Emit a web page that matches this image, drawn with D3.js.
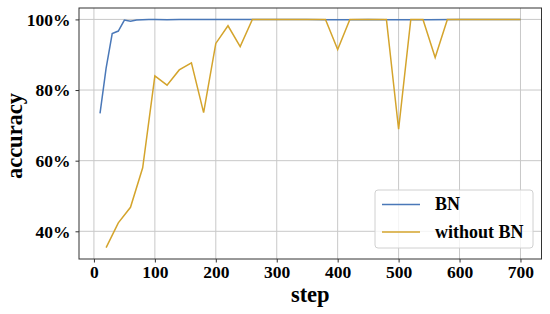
<!DOCTYPE html>
<html>
<head>
<meta charset="utf-8">
<script src="https://cdn.jsdelivr.net/npm/d3@7"></script>
<style>
  body { margin: 0; background: #fff; }
  text { font-family: "Liberation Serif", "Times New Roman", serif; font-weight: bold; fill: #000; }
</style>
</head>
<body>
<svg width="550" height="314"></svg>
<script>
var width = 550,
    height = 314;

// BN curve
var bnSteps = [10, 20, 30, 40, 50, 60, 70, 80, 90, 100, 120, 140, 160, 180, 200,
  250, 300, 350, 380, 400, 420, 450, 480, 500, 520, 550, 600, 650, 700];
var bnAcc = [73.4, 86.2, 96.0, 96.7, 99.8, 99.5, 99.8, 99.9, 100, 100, 99.9, 100, 100, 100, 100,
  100, 100, 100, 99.9, 99.9, 99.9, 100, 99.9, 99.9, 99.9, 99.9, 100, 100, 100];

// without BN, every 20 steps
var noSteps = [20, 40, 60, 80, 100, 120, 140, 160, 180, 200, 220, 240, 260,
  380, 400, 420, 480, 500, 520, 540, 560, 580, 700];
var noAcc = [35.4, 42.4, 46.8, 58.0, 84.0, 81.4, 85.7, 87.7, 73.6, 93.2, 98.2, 92.3, 100,
  100, 91.5, 100, 100, 68.9, 100, 100, 89.2, 100, 100];

var xTicks = [0, 100, 200, 300, 400, 500, 600, 700];
var yTicks = [40, 60, 80, 100];
var seriesNames = ["BN", "without BN"];
var seriesColors = ["#4a78b8", "#d4a42c"];

var margin = {left: 79, right: 8.5, top: 8, bottom: 55};

var x = d3.scaleLinear().domain([-24.5, 734.5])
    .range([margin.left, width - margin.right]);
var y = d3.scaleLinear().domain([32.16, 103.23])
    .range([height - margin.bottom, margin.top]);

var svg = d3.select("svg");

// grid
svg.append("g").selectAll("line").data(xTicks).enter().append("line")
    .attr("x1", function(d) { return x(d); }).attr("x2", function(d) { return x(d); })
    .attr("y1", y.range()[0]).attr("y2", y.range()[1])
    .style("stroke", "#c8c8c8").style("stroke-width", 1);
svg.append("g").selectAll("line").data(yTicks).enter().append("line")
    .attr("y1", function(d) { return y(d); }).attr("y2", function(d) { return y(d); })
    .attr("x1", x.range()[0]).attr("x2", x.range()[1])
    .style("stroke", "#c8c8c8").style("stroke-width", 1);

var line = d3.line()
    .x(function(d) { return x(d[0]); })
    .y(function(d) { return y(d[1]); });

svg.append("path")
    .datum(d3.zip(bnSteps, bnAcc))
    .attr("d", line)
    .style("fill", "none").style("stroke", seriesColors[0]).style("stroke-width", 1.5);
svg.append("path")
    .datum(d3.zip(noSteps, noAcc))
    .attr("d", line)
    .style("fill", "none").style("stroke", seriesColors[1]).style("stroke-width", 1.5);

// axes
var xAxis = svg.append("g")
    .attr("transform", "translate(0," + y.range()[0] + ")")
    .call(d3.axisBottom(x).tickValues(xTicks).tickSize(3.5).tickPadding(4));
var yAxis = svg.append("g")
    .attr("transform", "translate(" + x.range()[0] + ",0)")
    .call(d3.axisLeft(y).tickValues(yTicks).tickSize(3.5).tickPadding(5)
      .tickFormat(function(d) { return d + "%"; }));

[xAxis, yAxis].forEach(function(a) {
  a.select(".domain").remove();
  a.selectAll("line").style("stroke", "#333");
  a.selectAll("text")
    .style("font-family", "'Liberation Serif', serif")
    .style("font-weight", "bold")
    .style("font-size", "17.5px")
    .style("fill", "#000");
});
xAxis.selectAll("text").attr("dy", "0.66em");
yAxis.selectAll("text").attr("dy", "0.33em");

// frame
svg.append("rect")
    .attr("x", x.range()[0]).attr("y", y.range()[1])
    .attr("width", x.range()[1] - x.range()[0])
    .attr("height", y.range()[0] - y.range()[1])
    .style("fill", "none").style("stroke", "#333").style("stroke-width", 1);

// axis labels
svg.append("text")
    .attr("x", (x.range()[0] + x.range()[1]) / 2)
    .attr("y", 302)
    .attr("text-anchor", "middle")
    .style("font-size", "22.5px")
    .text("step");
svg.append("text")
    .attr("transform", "translate(22,136) rotate(-90)")
    .attr("text-anchor", "middle")
    .style("font-size", "22.5px")
    .text("accuracy");

// legend
var legend = svg.append("g").attr("transform", "translate(375,190)");
legend.append("rect")
    .attr("width", 158).attr("height", 58).attr("rx", 3)
    .style("fill", "rgba(255,255,255,0.8)")
    .style("stroke", "#d0d0d0").style("stroke-width", 1);
seriesNames.forEach(function(name, i) {
  var ly = 14.5 + i * 27.5;
  legend.append("line")
    .attr("x1", 7).attr("x2", 45).attr("y1", ly).attr("y2", ly)
    .style("stroke", seriesColors[i]).style("stroke-width", 1.5);
  legend.append("text")
    .attr("x", 60).attr("y", ly).attr("dy", "0.33em")
    .style("font-size", "18px")
    .text(name);
});
</script>
</body>
</html>
